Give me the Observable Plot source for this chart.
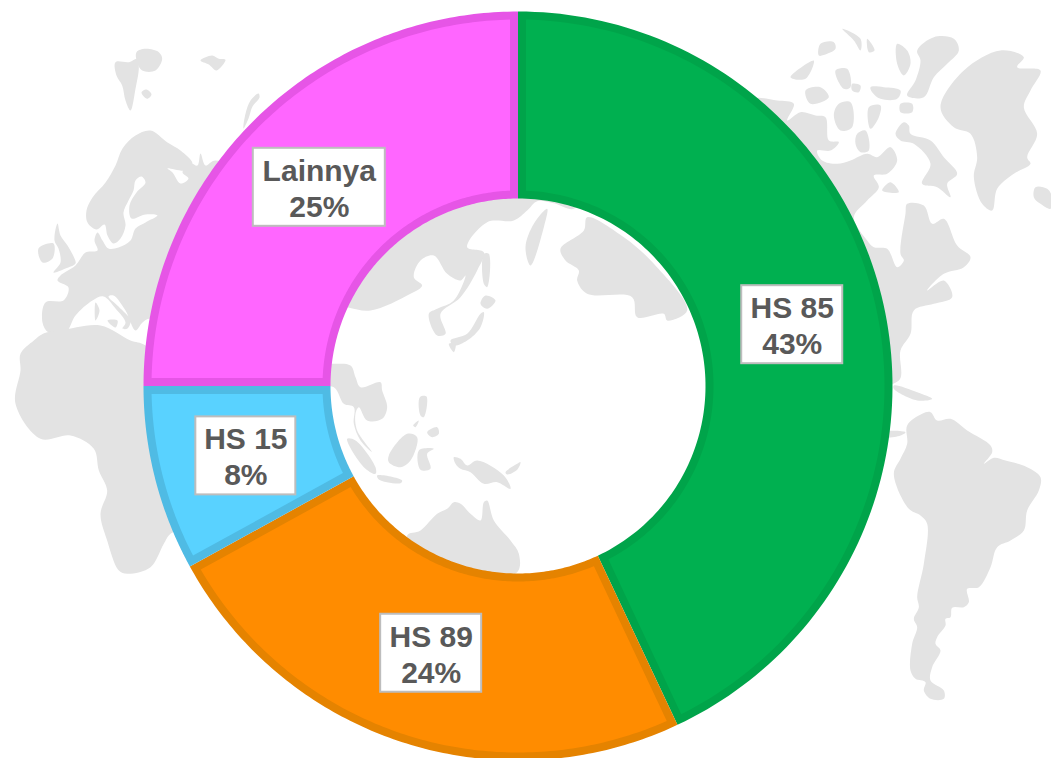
<!DOCTYPE html>
<html>
<head>
<meta charset="utf-8">
<script src="https://cdn.jsdelivr.net/npm/d3@7"></script>
<script src="https://cdn.jsdelivr.net/npm/@observablehq/plot@0.6"></script>
<style>html,body{margin:0;padding:0;background:#fff;overflow:hidden}svg{display:block}</style>
</head>
<body>
<div id="chart"></div>
<script>
// Chart data
const categories = ["HS 85", "HS 89", "HS 15", "Lainnya"];
const shares = [43, 24, 8, 25];
const fillColors = ["#00B050", "#FF8C00", "#59D2FF", "#FF66FF"];
const borderColors = ["#00A44A", "#E58300", "#4FBBE4", "#E655E6"];
const labelBoxWidths = [101, 101, 100, 132];

// Backdrop world map outlines: [left, top, points]
const europe = [0,0,[[150,130],[135,135],[122,148],[115,165],[105,182],[92,197],[86,210],[87,222],[96,229],[104,224],[107,235],[113,243],[120,238],[125,225],[123,212],[128,200],[133,190],[135,180],[141,176],[145,182],[136,192],[129,205],[131,218],[145,214],[157,215],[145,222],[135,228],[130,240],[118,247],[108,248],[102,240],[97,232],[94,240],[97,250],[85,252],[75,265],[60,275],[57,280],[68,287],[63,300],[45,302],[42,322],[48,332],[65,332],[75,315],[92,300],[103,296],[115,308],[125,322],[122,328],[127,328],[130,320],[118,306],[108,296],[113,295],[125,310],[135,330],[142,322],[150,318],[300,350],[300,200],[215,160],[205,165],[200,153],[197,165],[190,163],[182,172],[188,178],[180,183],[172,172],[167,168],[185,170],[192,163],[180,150],[167,142]]];
const africa = [0,370,[[129,-111],[180,-120],[300,-135],[390,-90],[435,-75],[600,100],[600,450],[510,490],[490,520],[450,590],[380,610],[355,600],[320,510],[300,430],[320,360],[295,300],[280,235],[210,195],[120,205],[45,100],[60,0],[60,-50],[100,-90]]];
const svalbard = [0,0,[[345,185],[385,185],[410,175],[415,200],[405,265],[390,330],[375,300],[365,255],[348,225]]];
const nordaust = [0,0,[[408,155],[435,145],[475,155],[485,175],[465,210],[425,210],[410,185]]];
const kongKarl = [0,0,[[423,276],[438,267],[453,282],[440,295]]];
const franzJosef = [0,0,[[600,180],[635,165],[655,175],[675,178],[648,210],[625,192]]];
const novaya = [0,0,[[729,384],[735,340],[750,300],[774,279],[777,291],[756,318],[744,354]]];
const britain = [0,0,[[171,669],[180,705],[201,735],[222,774],[225,789],[195,804],[159,816],[180,786],[174,744],[162,720]]];
const ireland = [0,0,[[114,744],[159,729],[156,774],[126,786]]];
const corsica = [0,0,[[285,906],[297,930],[285,960]]];
const sicily = [0,0,[[321,960],[351,960],[345,981]]];
const asia = [320,180,[[80,380],[150,390],[270,340],[305,315],[280,290],[300,240],[340,225],[380,280],[420,300],[435,285],[400,360],[350,385],[325,400],[350,465],[375,460],[360,400],[420,350],[470,270],[490,215],[440,200],[500,125],[580,120],[620,90],[650,62],[700,68],[760,85],[780,40],[620,-50],[-50,-50],[-50,350]]];
const alaska = [320,180,[[720,205],[790,150],[800,110],[910,170],[1000,250],[1100,390],[1040,420],[1030,400],[950,410],[935,350],[800,340],[770,300],[775,270],[735,240]]];
const kamchatka = [320,180,[[615,200],[640,130],[680,85],[670,140],[630,255]]];
const honshu = [320,180,[[390,480],[440,460],[480,400],[490,395],[480,440],[440,480],[400,495]]];
const kyushu = [320,180,[[385,490],[405,490],[400,515]]];
const sakhalin = [320,180,[[490,220],[505,220],[500,320],[490,310]]];
const hokkaido = [320,180,[[480,370],[495,345],[525,360],[500,385]]];
const indochina = [320,180,[[30,550],[90,555],[105,590],[120,620],[180,605],[185,630],[200,680],[185,715],[140,720],[115,680],[105,700],[110,750],[155,815],[120,780],[100,730],[100,680],[70,670],[40,620],[-30,620],[-30,550]]];
const sumatra = [320,180,[[80,775],[105,780],[165,860],[165,880],[130,860]]];
const java = [320,180,[[170,885],[245,900],[240,908],[175,897]]];
const borneo = [320,180,[[205,825],[260,760],[290,770],[270,840],[240,860],[205,845]]];
const sulawesi = [320,180,[[295,810],[340,805],[320,820],[330,865],[300,868]]];
const luzon = [320,180,[[298,650],[318,648],[310,710],[300,705]]];
const palawan = [320,180,[[278,735],[295,720],[285,740]]];
const mindanao = [320,180,[[320,755],[350,740],[355,760],[335,770]]];
const guinea = [320,180,[[400,830],[420,835],[440,855],[470,840],[550,885],[570,925],[530,905],[490,910],[450,875],[420,865],[405,850]]];
const newBritain = [320,180,[[555,875],[590,850],[600,845],[590,868],[560,882]]];
const australia = [320,180,[[260,1065],[300,1050],[350,1000],[380,985],[400,965],[420,970],[450,1000],[480,1020],[490,965],[500,960],[520,1020],[570,1080],[595,1120],[590,1175],[400,1200],[300,1150]]];
const greenland = [750,0,[[570,320],[640,210],[750,150],[820,170],[800,200],[870,210],[840,270],[820,320],[860,400],[830,470],[840,490],[790,520],[740,565],[725,630],[695,610],[670,530],[680,470],[660,400],[610,380]]];
const iceland = [750,0,[[855,560],[890,565],[905,590],[900,625],[870,610],[850,590]]];
const ellesmere = [750,0,[[500,150],[550,110],[610,115],[625,150],[590,190],[550,230],[520,290],[470,285],[495,240],[510,180]]];
const baffin = [750,0,[[435,400],[460,365],[475,375],[480,400],[540,420],[580,470],[620,520],[590,550],[600,590],[560,560],[515,550],[540,490],[490,430],[450,420]]];
const arctic = [750,0,[[360,260],[400,260],[450,270],[440,295],[390,295],[365,275]]];
const axel = [750,0,[[440,130],[470,150],[480,190],[460,225],[440,190]]];
const isles = [
  [[275,85],[330,115],[330,150],[310,120]],[[350,115],[372,150],[355,155]],[[190,180],[165,235],[120,230]],
  [[210,130],[250,125],[255,145],[230,160],[205,165]],[[255,210],[290,205],[300,260],[280,265]],
  [[305,250],[330,255],[325,275],[305,270]],[[165,270],[210,260],[235,290],[180,310]],
  [[265,310],[300,305],[305,380],[270,390],[250,345]],[[355,320],[390,315],[385,350],[360,385]],
  [[450,310],[485,310],[485,335],[450,335]],[[320,400],[345,390],[355,450],[330,455],[315,430]],
  [[395,570],[420,545],[445,575]]
].map(p => [750,0,p]);
const northAmerica = [750,0,[[80,300],[130,310],[110,360],[150,335],[195,345],[225,350],[235,420],[265,425],[240,450],[200,450],[215,480],[260,490],[300,480],[350,460],[380,470],[420,440],[440,480],[410,520],[370,525],[385,560],[350,600],[310,650],[350,720],[370,740],[410,745],[440,800],[460,780],[450,760],[465,640],[470,610],[520,615],[545,670],[580,655],[620,735],[660,770],[640,800],[580,820],[530,870],[580,840],[605,890],[550,910],[490,930],[480,1000],[450,1050],[445,1140],[300,1140],[50,600],[0,300]]];
const cuba = [850,370,[[130,45],[200,65],[245,85],[200,90],[130,55]]];
const isthmus = [850,370,[[100,185],[165,185],[150,195],[100,200]]];
const southAmerica = [850,370,[[170,165],[215,130],[240,125],[260,150],[300,145],[350,180],[420,225],[425,245],[400,280],[430,262],[465,270],[530,290],[570,320],[565,360],[530,420],[520,480],[480,510],[440,530],[420,590],[385,650],[350,655],[355,695],[340,710],[305,712],[300,740],[285,745],[285,765],[260,800],[255,820],[270,840],[245,890],[240,930],[280,960],[280,985],[240,985],[220,960],[225,935],[195,925],[180,900],[185,820],[200,770],[190,745],[205,710],[200,680],[220,580],[230,460],[210,435],[175,415],[130,310],[150,265],[170,220]]];

const landShapes = [africa,svalbard,nordaust,kongKarl,franzJosef,novaya,britain,ireland,corsica,sicily,asia,alaska,kamchatka,honshu,kyushu,sakhalin,hokkaido,indochina,sumatra,java,borneo,sulawesi,luzon,palawan,mindanao,guinea,newBritain,australia,greenland,iceland,ellesmere,baffin,arctic,axel,...isles,northAmerica,cuba,isthmus,southAmerica];

const W = 1051, H = 758;
const cx = 517.5, cy = 385.5, rOuter = 374.5, rInner = 187.5, border = 8;
const toPx = ([ox, oy, pts]) => pts.map(([x, y]) => ({x: ox + x / 3, y: oy + y / 3}));
const landRows = [
  ...europe[2].map(([x, y]) => ({x, y, id: -1})),
  ...landShapes.flatMap((s, id) => toPx(s).map(p => ({...p, id})))
];

// Slice geometry comes from the shares, through d3.pie
const arcs = d3.pie().sort(null).value(d => d)(shares);
const at = (r, a) => ({x: cx + r * Math.sin(a), y: cy - r * Math.cos(a)});
function ring(a0o, a1o, a0i, a1i, ro, ri) {
  const n = 120, out = [], inn = [];
  for (let i = 0; i <= n; i++) out.push(at(ro, a0o + (a1o - a0o) * i / n));
  for (let i = n; i >= 0; i--) inn.push(at(ri, a0i + (a1i - a0i) * i / n));
  return [...out, ...inn];
}
const sliceMarks = arcs.flatMap((a, i) => {
  const outer = ring(a.startAngle, a.endAngle, a.startAngle, a.endAngle, rOuter, rInner);
  const ro = rOuter - border, ri = rInner + border;
  const inner = ring(a.startAngle + Math.asin(border / ro), a.endAngle - Math.asin(border / ro),
                     a.startAngle + Math.asin(border / ri), a.endAngle - Math.asin(border / ri), ro, ri);
  return [
    Plot.line(outer, {x: "x", y: "y", fill: borderColors[i], stroke: "none", curve: "linear-closed"}),
    Plot.line(inner, {x: "x", y: "y", fill: fillColors[i], stroke: "none", curve: "linear-closed"})
  ];
});

const labels = arcs.map((a, i) => {
  const p = at((rOuter + rInner) / 2, (a.startAngle + a.endAngle) / 2);
  const hw = labelBoxWidths[i] / 2;
  return {...p, x1: p.x - hw, x2: p.x + hw, y1: p.y - 39, y2: p.y + 39,
          text: categories[i] + "\n" + shares[i] + "%"};
});

const chart = Plot.plot({
  width: W, height: H, margin: 0,
  x: {domain: [0, W], range: [0, W], axis: null},
  y: {domain: [0, H], range: [0, H], axis: null},
  style: {background: "#fff", overflow: "hidden"},
  marks: [
    Plot.line(landRows, {x: "x", y: "y", z: "id", fill: "#E3E3E3", stroke: "none", curve: "catmull-rom-closed"}),
    ...sliceMarks,
    Plot.rect(labels, {x1: "x1", x2: "x2", y1: "y1", y2: "y2", fill: "#fff", stroke: "#BDBDBD", strokeWidth: 2}),
    Plot.text(labels, {x: "x", y: "y", text: "text", fontFamily: "Liberation Sans, Arial, sans-serif", fontWeight: "bold", fontSize: 30, lineHeight: 1.2, fill: "#595959", lineAnchor: "middle", textAnchor: "middle"})
  ]
});
document.getElementById("chart").appendChild(chart);
</script>
</body>
</html>
